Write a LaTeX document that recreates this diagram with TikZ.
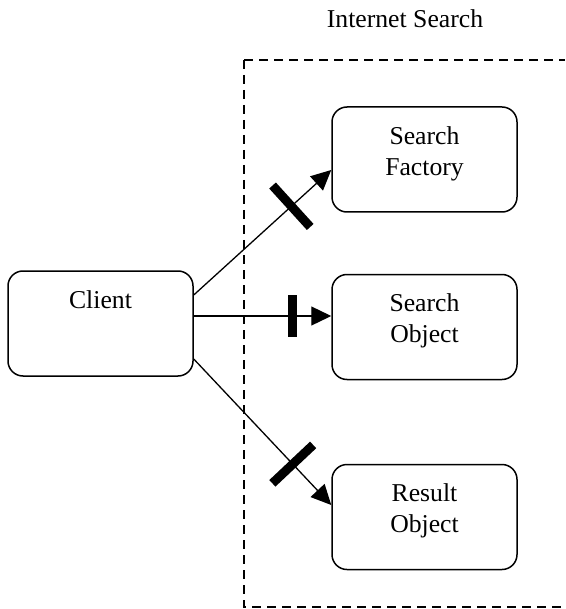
\documentclass[tikz,border=0pt]{standalone}
\usepackage{fontspec}
\setmainfont{Liberation Serif}
\usepackage{tikz}
\usetikzlibrary{arrows.meta}
\usetikzlibrary{calc}

\begin{document}
\begin{tikzpicture}[x=1pt,y=-1pt,
        font=\fontsize{25.7}{31}\selectfont,
        boite/.style={draw, line width=1.5pt, rounded corners=15pt, minimum width=185pt, minimum height=105pt},
        titre/.style={anchor=north, align=center, inner sep=0pt, yshift=-20pt},
        cadre/.style={line width=1.4pt, dash pattern=on 9pt off 6pt},
        fleche/.style={line width=1.3pt, -{Triangle[length=20pt,width=19pt]}},
        barre/.style={fill, sloped, inner sep=0pt, minimum width=9pt, minimum height=56pt}]
    \useasboundingbox (0,0) rectangle (565,609);
    % le module
    \node[anchor=base] (titre) at (405,27.5) {Internet Search};
    \draw[cadre] (244,60) -- (565,60);
    \draw[cadre] (244,60) -- (244,607) -- (565,607);
    % les boites
    \node[boite, label={[titre]north:Client}] (client) at (100.5,323.5) {};
    \node[boite, label={[titre]north:{Search\\Factory}}] (factory) at (424.5,159.5) {};
    \node[boite, label={[titre]north:{Search\\Object}}] (search) at (424.5,327) {};
    \node[boite, label={[titre]north:{Result\\Object}}] (result) at (424.5,517) {};
    % les fleches
    \draw[fleche] ($(client.east)+(0,-28.5)$) -- ($(factory.west)+(0,10.5)$) node[barre, pos=0.71] {};
    \draw[fleche] ($(client.east)+(0,-7.5)$) -- ($(search.west)+(0,-11)$) node[barre, pos=0.72, minimum height=42pt] {};
    \draw[fleche] ($(client.east)+(0,35.5)$) -- ($(result.west)+(0,-12)$) node[barre, pos=0.72] {};
\end{tikzpicture}
\end{document}
